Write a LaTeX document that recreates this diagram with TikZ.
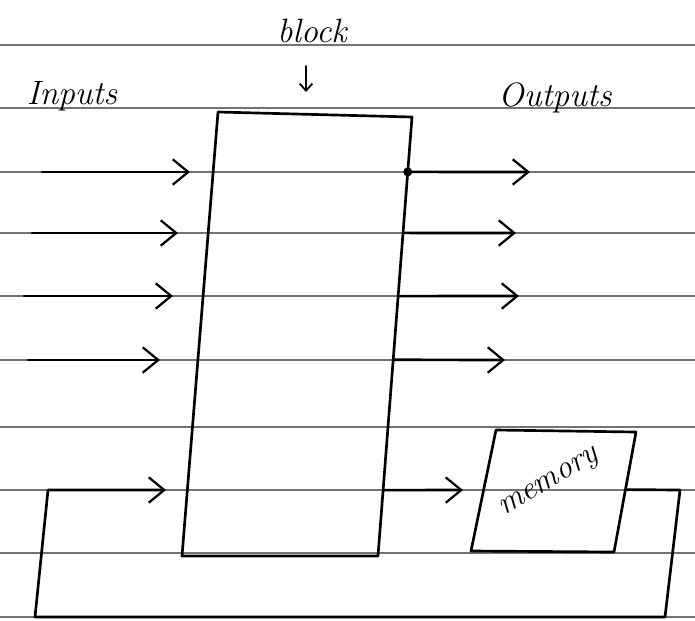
\documentclass[tikz,border=0pt]{standalone}
\usetikzlibrary{arrows.meta,calc}
\begin{document}
\begin{tikzpicture}[x=0.025cm,y=-0.025cm,
  rule/.style={black!55,line width=1.3pt},
  ink/.style={black,line width=1.9pt,line cap=round,line join=round},
  flow/.style={ink,-{Straight Barb[length=11pt,width=18pt,line width=1.6pt]}},
  hand/.style={font=\fontsize{24}{28}\selectfont\itshape,inner sep=0pt}]
\useasboundingbox (0,0) rectangle (695,620);
\fill[white] (0,0) rectangle (695,620);
% ruled paper
\foreach \y in {45,108,172,233,296,360,427,490,553,617}
  \draw[rule] (0,\y) -- (695,\y);

% the block
\coordinate (bTL) at (218,112);
\coordinate (bTR) at (412,117);
\coordinate (bBR) at (378,556);
\coordinate (bBL) at (182,556);
\draw[ink] (bTL) -- (bTR) -- (bBR) -- (bBL) -- cycle;

% memory
\coordinate (mTL) at (496,430);
\coordinate (mTR) at (636,432);
\coordinate (mBR) at (614,552);
\coordinate (mBL) at (471,551);
\draw[ink] (mTL) -- (mTR) -- (mBR) -- (mBL) -- cycle;
\node[hand,font=\fontsize{23}{26}\selectfont\itshape,rotate=31] (mem) at (550,484) {memory};

% labels
\node[hand] (blk) at (312,31) {block};
\coordinate (bk1) at (306,66);
\coordinate (bk2) at (306,92);
\draw[ink,line width=1.4pt,-{Straight Barb[length=5pt,width=9pt,line width=1.3pt]}] (bk1) -- (bk2);
\node[hand] (inp) at (72,96) {Inputs};
\node[hand] (outp) at (555,98) {Outputs};

% inputs
\coordinate (i1s) at (42,172);  \coordinate (i1e) at (190,172);
\coordinate (i2s) at (32,233);  \coordinate (i2e) at (178,233);
\coordinate (i3s) at (24,296);  \coordinate (i3e) at (173,296);
\coordinate (i4s) at (28,360);  \coordinate (i4e) at (160,360);
\foreach \k in {1,2,3,4} \draw[flow] (i\k s) -- (i\k e);

% outputs
\coordinate (o1s) at ($(bTR)!0.125!(bBR)$); \coordinate (o1e) at (530,172);
\coordinate (o2s) at ($(bTR)!0.264!(bBR)$); \coordinate (o2e) at (516,233);
\coordinate (o3s) at ($(bTR)!0.408!(bBR)$); \coordinate (o3e) at (519,296);
\coordinate (o4s) at ($(bTR)!0.553!(bBR)$); \coordinate (o4e) at (505,360);
\foreach \k in {1,2,3,4} \draw[flow] (o\k s) -- (o\k e);
\fill (o1s) circle (4.5);

% block to memory
\coordinate (o5s) at ($(bTR)!0.85!(bBR)$); \coordinate (o5e) at (463,490);
\draw[flow] (o5s) -- (o5e);

% feedback from memory back into the block
\coordinate (mR) at ($(mTR)!0.48!(mBR)$);
\coordinate (l1) at (680,490);
\coordinate (l2) at (665,617);
\coordinate (l3) at (35,617);
\coordinate (l4) at (48,490);
\coordinate (i5e) at (166,490);
\draw[flow] (mR) -- (l1) -- (l2) -- (l3) -- (l4) -- (i5e);
\end{tikzpicture}
\end{document}
